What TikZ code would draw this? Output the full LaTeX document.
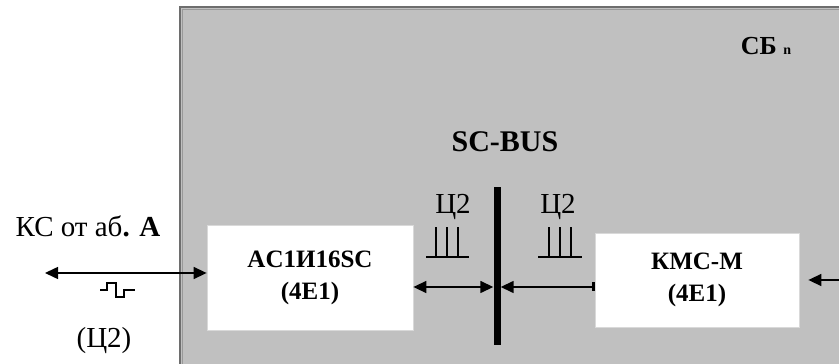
\documentclass[tikz,border=0pt]{standalone}
\usepackage{fontspec}
\setmainfont{Liberation Serif}
\usetikzlibrary{arrows.meta}

\definecolor{sbgray}{RGB}{192,192,192}
\definecolor{sbedge}{RGB}{110,110,110}

\tikzset{
  unit/.style={draw=black!15, fill=white, line width=0.8pt, align=center,
    inner sep=0pt, font=\fontsize{25}{32}\selectfont\bfseries},
  busbar/.style={fill=black, inner sep=0pt, minimum width=7pt, minimum height=158pt},
  lbl/.style={inner sep=0pt, anchor=base, font=\fontsize{29}{32}\selectfont},
  link/.style={line width=1.5pt, {Triangle[length=13pt,width=12pt]}-{Triangle[length=13pt,width=12pt]}},
  sig/.style={line width=1.2pt}
}

\begin{document}
\begin{tikzpicture}[x=1pt,y=1pt]
  \useasboundingbox (0,0) rectangle (839,364);
  % switching block frame
  \begin{scope}
    \clip (0,0) rectangle (839,364);
    \filldraw[fill=sbgray, draw=sbedge, line width=2.5pt] (180,-10) rectangle (860,357);
    \draw[black!40, line width=1.5pt] (182.5,-10) -- (182.5,354.5) -- (860,354.5);
  \end{scope}
  \node[lbl, font=\fontsize{26}{28}\selectfont\bfseries] (sb) at (766,309)
    {СБ {\fontsize{14}{14}\selectfont n}};

  % units and bus
  \node[unit, minimum width=206pt, minimum height=105pt] (ac) at (310,86.5)
    {AC1И16SC\\(4E1)};
  \node[unit, minimum width=204pt, minimum height=94pt] (kmc) at (697,84)
    {КМС-М\\(4E1)};
  \node[busbar] (bus) at (497,98) {};
  \node[lbl, font=\fontsize{30}{32}\selectfont\bfseries] (busname) at (505,212) {SC-BUS};

  % subscriber line
  \node[lbl] (ksA) at (88,127) {КС от аб{\bfseries. A}};
  \coordinate (lineA) at (45,91);
  \draw[link] (lineA) -- (ac.west |- lineA);
  \draw[sig] (100,74) -- (107,74) -- (107,81) -- (116,81) -- (116,67)
    -- (124,67) -- (124,74) -- (135,74);
  \node[lbl] (codeA) at (104,16) {(Ц2)};

  % links to the bus
  \draw[link] (ac.east |- 0,77) -- (bus.west |- 0,77);
  \draw[line width=1.5pt, {Triangle[length=13pt,width=12pt]}-{Bar[width=9pt,line width=3pt]}]
    (bus.east |- 0,77) -- (kmc.west |- 0,77);
  \coordinate (inR) at (845,84);
  \draw[line width=1.5pt, -{Triangle[length=13pt,width=12pt]}] (inR) -- ([xshift=9pt]kmc.east);

  % Ц2 pulse combs
  \node[lbl] (codeL) at (453,150) {Ц2};
  \node[lbl] (codeR) at (558,150) {Ц2};
  \draw[sig] (426,107) -- (469,107);
  \draw[sig] (538,107) -- (582,107);
  \foreach \x in {436,447,458,549,560,571}
    \draw[sig] (\x,107) -- (\x,137);
\end{tikzpicture}
\end{document}
